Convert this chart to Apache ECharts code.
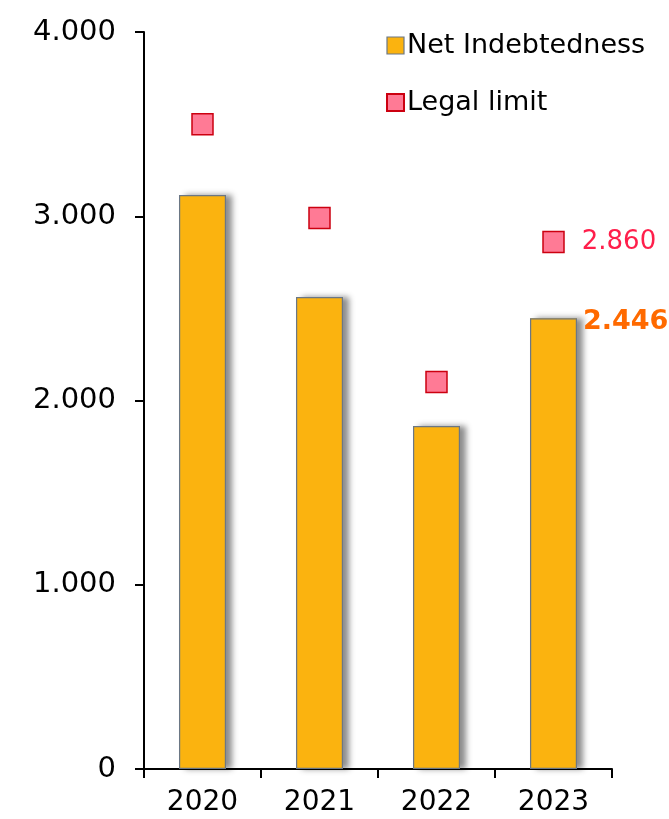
<!DOCTYPE html>
<html>
<head>
<meta charset="utf-8">
<script src="https://cdn.jsdelivr.net/npm/echarts@6/dist/echarts.min.js"></script>
<style>
  html, body { margin: 0; padding: 0; background: #fff; }
  #chart { width: 669px; height: 819px; }
</style>
</head>
<body>
<div id="chart"></div>
<script>
// data
const years = ['2020', '2021', '2022', '2023']
const netDebt = [3115, 2562, 1862, 2446]
const legalLimit = [3500, 2990, 2100, 2860]
const yTicks = [0, 1000, 2000, 3000, 4000]

const FONT = 'DejaVu Sans'

// 1000 -> "1.000"
function fmt(v) {
  return String(v).replace(/\B(?=(\d{3})+(?!\d))/g, '.')
}

const chart = echarts.init(document.getElementById('chart'))

const option = {
  animation: false,
  textStyle: { fontFamily: FONT },
  grid: { left: 144, right: 57, top: 32, bottom: 50 },
  legend: {
    orient: 'vertical',
    left: 381,
    top: 27,
    itemGap: 30,
    itemWidth: 17,
    itemHeight: 17,
    icon: 'rect',
    textStyle: { fontSize: 27, color: '#000', fontFamily: FONT, padding: [0, 0, 0, -2] },
    data: [
      { name: 'Net Indebtedness', itemStyle: { borderColor: '#6B7785', borderWidth: 1.2 } },
      { name: 'Legal limit' }
    ]
  },
  xAxis: {
    type: 'category',
    data: years,
    axisLine: { lineStyle: { color: '#000', width: 2 } },
    axisTick: { show: true, length: 9, lineStyle: { color: '#000', width: 2 } },
    axisLabel: { color: '#000', fontSize: 28, margin: 20, fontFamily: FONT }
  },
  yAxis: {
    type: 'value',
    min: yTicks[0],
    max: yTicks[yTicks.length - 1],
    interval: 1000,
    splitLine: { show: false },
    axisLine: { show: true, lineStyle: { color: '#000', width: 2 } },
    axisTick: { show: true, length: 9, lineStyle: { color: '#000', width: 2 } },
    axisLabel: { color: '#000', fontSize: 29, margin: 28, fontFamily: FONT, formatter: fmt }
  },
  series: [
    {
      // filled bars with the soft shadow on the right
      name: 'Net Indebtedness',
      type: 'bar',
      barWidth: 47,
      z: 2,
      data: netDebt.map((v, i) =>
        i === netDebt.length - 1
          ? {
              value: v,
              label: {
                show: true,
                position: ['100%', 0],
                offset: [6, 4],
                align: 'left',
                verticalAlign: 'middle',
                color: '#FF6A00',
                fontWeight: 'bold',
                fontSize: 27,
                fontFamily: FONT,
                formatter: (p) => fmt(p.value)
              }
            }
          : v
      ),
      itemStyle: {
        color: '#FBB30F',
        shadowColor: 'rgba(0,0,0,0.45)',
        shadowBlur: 6,
        shadowOffsetX: 6,
        shadowOffsetY: 0
      }
    },
    {
      // outline drawn on top, without shadow
      name: 'outline',
      type: 'bar',
      barWidth: 47,
      barGap: '-100%',
      z: 3,
      silent: true,
      data: netDebt,
      itemStyle: {
        color: 'rgba(0,0,0,0)',
        borderColor: '#6B7785',
        borderWidth: 1.2
      }
    },
    {
      name: 'Legal limit',
      type: 'scatter',
      symbol: 'rect',
      symbolSize: 21,
      z: 4,
      data: legalLimit.map((v, i) =>
        i === legalLimit.length - 1
          ? {
              value: v,
              label: {
                show: true,
                position: 'right',
                distance: 17,
                color: '#FF1F4B',
                fontSize: 26,
                fontFamily: FONT,
                formatter: (p) => fmt(p.value)
              }
            }
          : v
      ),
      itemStyle: {
        color: '#FF7A95',
        borderColor: '#CC0010',
        borderWidth: 1.5,
        opacity: 1
      }
    }
  ]
}

chart.setOption(option)
</script>
</body>
</html>
